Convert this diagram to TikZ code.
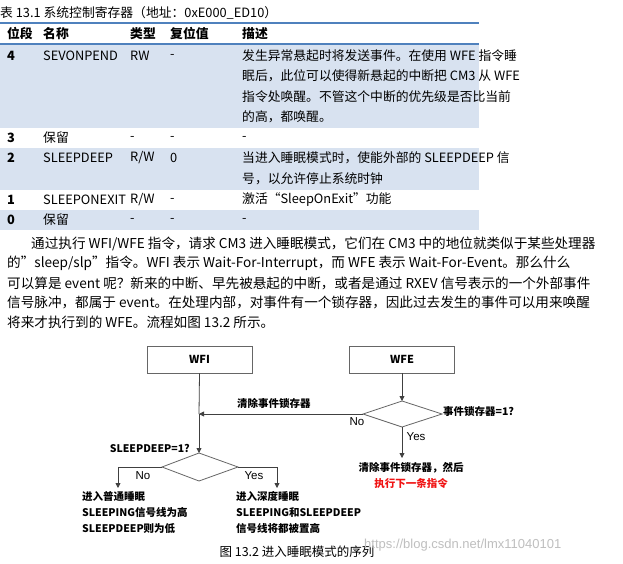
\documentclass[tikz,border=0pt]{standalone}
\usepackage{fontspec}
\setmainfont{Noto Sans CJK SC}
\newfontfamily\lsans{Liberation Sans}
\usetikzlibrary{arrows.meta}
\definecolor{tblue}{RGB}{79,129,189}
\definecolor{tshade}{RGB}{216,226,240}
\definecolor{tred}{RGB}{240,20,20}
\tikzset{
 tx/.style={anchor=west,inner sep=0pt,font=\fontsize{12.8}{14}\selectfont},
 hd/.style={tx,font=\fontsize{12.8}{14}\selectfont\bfseries},
 para/.style={anchor=west,inner sep=0pt,font=\fontsize{13.6}{15}\selectfont},
 fbox/.style={draw=black!60,line width=0.8pt,minimum width=105pt,minimum height=27pt,font=\fontsize{11}{13}\selectfont\bfseries},
 dia/.style={draw=black!60,line width=0.8pt},
 fl/.style={draw=black!75,line width=0.8pt},
 arr/.style={fl,-{Triangle[length=5pt,width=5pt]}},
 ft/.style={inner sep=0pt,font=\fontsize{10.5}{16}\selectfont\bfseries},
 yn/.style={inner sep=0pt,font=\lsans\fontsize{11.5}{13}\selectfont},
}
\begin{document}
\begin{tikzpicture}[x=1pt,y=-1pt]
\useasboundingbox[fill=white] (0,0) rectangle (623,564);
% table
\node[tx] (title) at (0,13) {表 13.1 系统控制寄存器（地址：0xE000\_ED10）};
\fill[tshade] (0,44) rectangle (479,128);
\fill[tshade] (0,148) rectangle (479,190);
\fill[tshade] (0,210) rectangle (479,230);
\draw[tblue,line width=2.5pt] (0,23) -- (479,23);
\draw[tblue,line width=2pt] (0,44) -- (479,44);
\node[hd] (h1) at (7,34) {位段};
\node[hd] (h2) at (43,34) {名称};
\node[hd] (h3) at (130,34) {类型};
\node[hd] (h4) at (170,34) {复位值};
\node[hd] (h5) at (242,34) {描述};
\node[hd] (r4a) at (7,56) {4};
\node[tx] (r4b) at (43,56) {SEVONPEND};
\node[tx] (r4c) at (130,56) {RW};
\node[tx] (r4d) at (170,56) {-};
\node[tx] (r4e) at (242,56) {发生异常悬起时将发送事件。在使用 WFE 指令睡};
\node[tx] (r4f) at (242,76) {眠后，此位可以使得新悬起的中断把 CM3 从 WFE};
\node[tx] (r4g) at (242,97) {指令处唤醒。不管这个中断的优先级是否比当前};
\node[tx] (r4h) at (242,117) {的高，都唤醒。};
\node[hd] (r3a) at (7,138) {3};
\node[tx] (r3b) at (43,138) {保留};
\node[tx] (r3c) at (130,138) {-};
\node[tx] (r3d) at (170,138) {-};
\node[tx] (r3e) at (242,138) {-};
\node[hd] (r2a) at (7,158) {2};
\node[tx] (r2b) at (43,158) {SLEEPDEEP};
\node[tx] (r2c) at (130,158) {R/W};
\node[tx] (r2d) at (170,158) {0};
\node[tx] (r2e) at (242,158) {当进入睡眠模式时，使能外部的 SLEEPDEEP 信};
\node[tx] (r2f) at (242,179) {号，以允许停止系统时钟};
\node[hd] (r1a) at (7,200) {1};
\node[tx] (r1b) at (43,200) {SLEEPONEXIT};
\node[tx] (r1c) at (130,200) {R/W};
\node[tx] (r1d) at (170,200) {-};
\node[tx] (r1e) at (242,200) {激活“SleepOnExit”功能};
\node[hd] (r0a) at (7,220) {0};
\node[tx] (r0b) at (43,220) {保留};
\node[tx] (r0c) at (130,220) {-};
\node[tx] (r0d) at (170,220) {-};
\node[tx] (r0e) at (242,220) {-};
% paragraph
\node[para] (p1) at (31,244) {通过执行 WFI/WFE 指令，请求 CM3 进入睡眠模式，它们在 CM3 中的地位就类似于某些处理器};
\node[para] (p2) at (7,263) {的”sleep/slp”指令。WFI 表示 Wait-For-Interrupt，而 WFE 表示 Wait-For-Event。那么什么};
\node[para] (p3) at (7,283) {可以算是 event 呢？新来的中断、早先被悬起的中断，或者是通过 RXEV 信号表示的一个外部事件};
\node[para] (p4) at (7,302) {信号脉冲，都属于 event。在处理内部，对事件有一个锁存器，因此过去发生的事件可以用来唤醒};
\node[para] (p5) at (7,322) {将来才执行到的 WFE。流程如图 13.2 所示。};
% flowchart
\node[fbox] (wfi) at (199.5,359.5) {WFI};
\node[fbox] (wfe) at (402,359.5) {WFE};
\coordinate (d1t) at (402,401); \coordinate (d1l) at (363,414);
\coordinate (d1r) at (442,414); \coordinate (d1b) at (402,427);
\draw[dia] (d1t) -- (d1r) -- (d1b) -- (d1l) -- cycle;
\coordinate (d2t) at (199,453); \coordinate (d2l) at (162,467);
\coordinate (d2r) at (238,467); \coordinate (d2b) at (199,481);
\draw[dia] (d2t) -- (d2r) -- (d2b) -- (d2l) -- cycle;
\coordinate (j1) at (199,414);
\draw[arr] (wfe.south) -- (d1t);
\draw[fl] (wfi.south) -- (j1);
\draw[arr] (j1) -- (d2t);
\draw[arr] (d1l) -- (j1);
\coordinate (e1) at (402,458);
\draw[arr] (d1b) -- (e1);
\coordinate (l2) at (118,467); \coordinate (l3) at (118,488);
\coordinate (r2) at (277,467); \coordinate (r3) at (277,488);
\draw[arr] (d2l) -- (l2) -- (l3);
\draw[arr] (d2r) -- (r2) -- (r3);
\node[ft,anchor=west] (clr) at (237,403) {清除事件锁存器};
\node[yn] (no1) at (357,422) {No};
\node[ft,anchor=west] (q1) at (443,412) {事件锁存器=1?};
\node[yn] (yes1) at (416,437) {Yes};
\node[ft,align=center,anchor=north] (res1) at (411,462) {清除事件锁存器，然后\\\textcolor{tred}{执行下一条指令}};
\node[ft,anchor=east] (q2) at (190,448) {SLEEPDEEP=1?};
\node[yn] (no2) at (143,476) {No};
\node[yn] (yes2) at (254,476) {Yes};
\node[ft,align=left,anchor=north west] (lt) at (82,491) {进入普通睡眠\\SLEEPING信号线为高\\SLEEPDEEP则为低};
\node[ft,align=left,anchor=north west] (rt) at (236,491) {进入深度睡眠\\SLEEPING和SLEEPDEEP\\信号线将都被置高};
\node[inner sep=0pt,font=\fontsize{12.5}{14}\selectfont] (cap) at (297,552) {图 13.2 进入睡眠模式的序列};
\node[inner sep=0pt,anchor=west,text=black!25,font=\lsans\fontsize{13}{15}\selectfont] (wm) at (364,545) {https://blog.csdn.net/lmx11040101};
\end{tikzpicture}
\end{document}
